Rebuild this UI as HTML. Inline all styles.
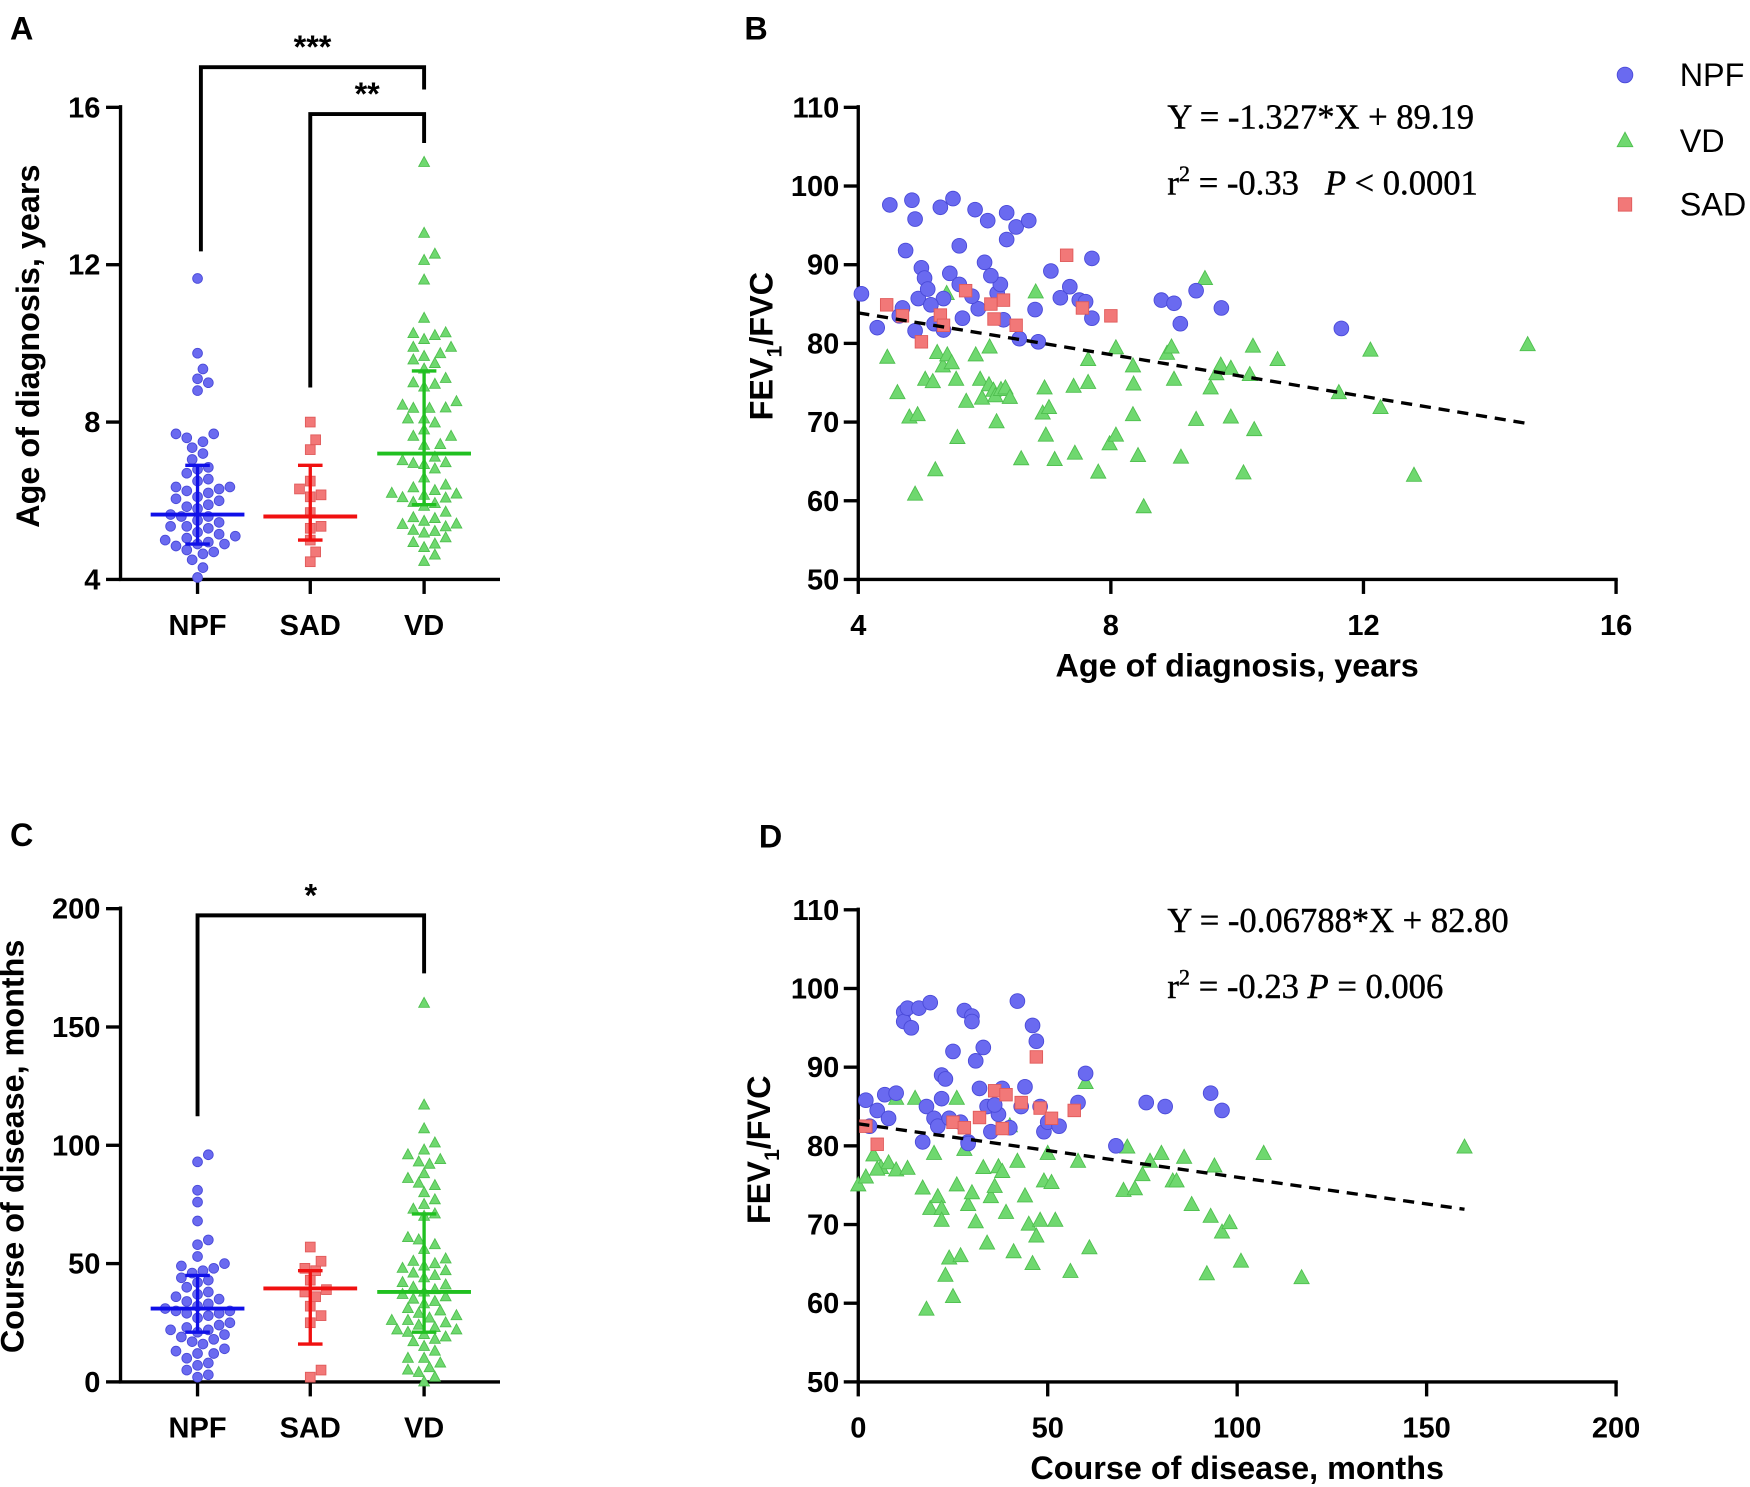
<!DOCTYPE html>
<html><head><meta charset="utf-8"><style>
html,body{margin:0;padding:0;background:#fff}
svg{display:block}
text{font-family:"Liberation Sans",Arial,sans-serif}
.tk{font-size:26px;font-weight:bold}
.ttl{font-size:29px;font-weight:bold}
.eq{font-family:"Liberation Serif",serif;font-size:31px;white-space:pre;stroke:#000;stroke-width:0.4}
</style></head><body>
<svg id="fig" width="1750" height="1487" viewBox="0 0 1568 1332" xmlns="http://www.w3.org/2000/svg">
<g id="g"></g>
</svg>
<script>
// ---- data ----
const groupNames = ["NPF","SAD","VD"];
const bNPF = [[4.05,86.3],[4.3,82],[4.5,97.6],[4.65,83.5],[4.75,91.8],[4.85,98.2],[4.9,95.8],[4.95,85.7],[5.0,89.6],[5.05,88.3],[5.1,86.9],[4.9,81.6],[5.2,82.5],[5.3,97.3],[5.35,85.7],[5.35,81.7],[5.45,88.9],[5.5,98.4],[5.6,87.5],[5.6,92.4],[5.65,83.2],[5.85,97],[5.9,84.4],[6.0,90.3],[6.05,95.6],[6.2,86.4],[6.25,87.5],[6.3,83],[6.35,96.6],[6.35,93.2],[6.5,94.8],[6.55,80.6],[6.7,95.6],[6.8,84.3],[6.85,80.2],[7.05,89.2],[7.2,85.8],[7.35,87.2],[7.5,85.5],[7.6,85.3],[7.7,90.8],[7.7,83.2],[8.8,85.5],[9.0,85.1],[9.1,82.5],[9.35,86.7],[9.75,84.5],[11.65,81.9],[4.7,84.5],[5.15,84.9],[6.1,88.6],[5.8,86]];
const bVD = [[4.46,78.2],[4.62,73.7],[4.81,70.6],[4.90,60.8],[4.94,70.9],[5.06,75.4],[5.18,75.1],[5.25,78.8],[5.22,63.9],[5.34,77.1],[5.40,86.3],[5.41,78.5],[5.48,77.5],[5.55,75.4],[5.57,68.0],[5.71,72.6],[5.86,78.5],[5.93,75.4],[5.96,73.0],[6.07,74.7],[6.08,79.5],[6.14,74.0],[6.17,73.3],[6.19,70.0],[6.26,74.1],[6.33,74.3],[6.40,73.1],[6.58,65.3],[6.81,86.5],[6.95,74.3],[6.92,71.1],[6.97,68.3],[7.02,71.8],[7.43,66.0],[7.64,75.0],[7.64,77.9],[7.80,63.6],[7.98,67.2],[8.35,77.1],[8.36,74.8],[8.35,70.9],[8.43,65.7],[8.52,59.2],[8.89,78.7],[8.96,79.5],[9.0,75.4],[9.11,65.5],[9.35,70.3],[9.49,88.2],[9.58,74.3],[9.67,76.1],[9.74,77.2],[9.90,70.6],[10.10,63.5],[10.20,76.0],[10.25,79.6],[10.27,69.0],[10.64,77.9],[11.61,73.7],[12.11,79.1],[12.27,71.8],[12.80,63.2],[14.60,79.8],[8.08,79.4],[7.41,74.5],[9.90,76.8],[8.08,68.3],[7.11,65.2]];
const bSAD = [[4.45,84.9],[5.0,80.2],[5.3,83.6],[5.35,82.3],[5.7,86.7],[6.1,85],[6.15,83.1],[6.5,82.3],[7.3,91.2],[7.55,84.5],[8.0,83.5],[4.7,83.5],[6.3,85.5]];
const dNPF = [[2,85.8],[3,82.5],[5,84.5],[7,86.5],[8,83.5],[10,86.7],[12,97],[12,95.8],[13,97.5],[14,95],[16,97.5],[17,80.5],[18,85],[19,98.2],[20,83.5],[21,82.5],[22,89],[23,88.5],[24,83.5],[25,92],[27,83],[28,97.2],[29,80.5],[30,96.5],[30,95.8],[31,90.8],[32,87.3],[33,92.5],[34,85],[35,81.8],[37,84],[38,87.3],[40,82.3],[42,98.4],[43,85],[44,87.5],[46,95.3],[47,93.3],[48,85],[49,81.8],[50,83],[53,82.5],[58,85.5],[60,89.2],[68,80],[76,85.5],[81,85],[93,86.7],[96,84.5],[29,80.3],[36,85.2],[22,86]];
const dVD = [[0,75],[2,76],[4,78.8],[6,77.2],[8,77.8],[10,76.9],[13,77.1],[15,86],[17,74.6],[18,59.2],[19,72],[20,79],[21,73.5],[22,72],[22,70.5],[23,63.5],[24,65.7],[25,60.8],[26,75],[27,66],[28,79.5],[29,72.5],[30,74],[31,70.3],[33,77.2],[34,67.6],[35,73.5],[36,74.8],[37,77.3],[38,76.7],[39,71.5],[40,82.5],[41,66.5],[42,78],[44,73.6],[45,70],[46,65],[47,68.5],[48,70.5],[49,75.5],[50,79],[51,75.3],[52,70.5],[56,64],[58,78],[61,67],[70,74.3],[71,79.8],[73,74.5],[75,76.3],[77,78],[80,79],[83,75.5],[84,75.5],[86,78.5],[88,72.5],[92,63.7],[93,71],[94,77.4],[96,69],[98,70.2],[101,65.3],[107,79],[117,63.2],[160,79.8],[60,88],[26,86],[10,86],[5,77]];
const dSAD = [[2,82.5],[5,80.2],[25,83],[28,82.3],[32,83.6],[36,87],[39,86.5],[43,85.5],[47,91.3],[48,84.8],[51,83.5],[57,84.5],[38,82.2]];
const aMedian = [5.65,5.6,7.2];
const aLow = [4.9,5.0,5.9];
const aHigh = [6.9,6.9,9.3];
const cMedian = [31,39.5,38];
const cLow = [21,16,21];
const cHigh = [45,47,71];
const regB = [-1.327,89.19,4,14.65];
const regD = [-0.06788,82.80,0,160];
const yTicksA = [4,8,12,16];
const yTicksC = [0,50,100,150,200];
const yTicksFev = [50,60,70,80,90,100,110];
const xTicksB = [4,8,12,16];
const xTicksD = [0,50,100,150,200];

const NS="http://www.w3.org/2000/svg";
const G=document.getElementById('g');
const COL={NPF:"#6a6af0",SAD:"#f27878",VD:"#6fd86f"};
const STR={NPF:"#4a4ad8",SAD:"#e05a5a",VD:"#4fbf4f"};
const LINE={NPF:"#1010e8",SAD:"#f01010",VD:"#20c020"};
function el(t,a,txt){const e=document.createElementNS(NS,t);for(const k in a)e.setAttribute(k,a[k]);if(txt!==undefined)e.textContent=txt;G.appendChild(e);return e;}
function line(x1,y1,x2,y2,w,c){return el('line',{x1,y1,x2,y2,stroke:c||'#000','stroke-width':w||3});}
function marker(g,x,y,s){
  let e;
  if(g==="NPF") e=el('circle',{cx:x,cy:y,r:s,fill:COL.NPF,stroke:STR.NPF,'stroke-width':0.8});
  else if(g==="SAD") e=el('rect',{x:x-s,y:y-s,width:2*s,height:2*s,fill:COL.SAD,stroke:STR.SAD,'stroke-width':0.8});
  else e=el('polygon',{points:`${x},${y-s*1.1} ${x-s},${y+s*0.75} ${x+s},${y+s*0.75}`,fill:COL.VD,stroke:STR.VD,'stroke-width':0.8});
  return e;
}
function text(x,y,s,cls,anchor,extra){const a={x,y,class:cls,'text-anchor':anchor||'middle'};Object.assign(a,extra||{});return el('text',a,s);}

function columnPanel(opt){
  const {x0,x1,yb,yt,vmin,vmax,ticks,cats,data,med,lo,hi,r,ytitle,title,tx,ty,pfx}=opt;
  const ys=v=>yb-(v-vmin)/(vmax-vmin)*(yb-yt);
  const ax=line(x0,yt-2,x0,yb,3);  
  const bx=line(x0-1.5,yb,x1,yb,3);  
  ticks.forEach(t=>{line(x0-13,ys(t),x0,ys(t),3);
    const l=text(x0-18,ys(t)+9,t,'tk','end');
     });
  cats.forEach((c,i)=>{
    const cx=opt.cx[i];
    line(cx,yb,cx,yb+13,3);
    const l=text(cx,yb+50,c,'tk');
     
    const vals=data[i].slice().sort((a,b)=>a-b);
    const placed=[];const d=2*r+0.5;
    vals.forEach(v=>{
      const y=ys(v);let px=cx;
      for(let k=0;k<40;k++){const off=(k%2?1:-1)*Math.ceil(k/2)*r*1.05;const tx2=cx+off;
        if(!placed.some(p=>Math.hypot(p[0]-tx2,p[1]-y)<d)){px=tx2;break;}}
      placed.push([px,y]);
      const m=marker(c,px,y,c==="VD"?r*1.05:r*0.95);
       
    });
    const e1=line(cx,ys(lo[i]),cx,ys(hi[i]),3,LINE[c]);
     
    line(cx-11,ys(lo[i]),cx+11,ys(lo[i]),3,LINE[c]);line(cx-11,ys(hi[i]),cx+11,ys(hi[i]),3,LINE[c]);
    const mm=line(cx-42,ys(med[i]),cx+42,ys(med[i]),3.5,LINE[c]);
     
  });
  const yt2=text(0,0,ytitle,'ttl','middle',{transform:`translate(${tx},${ty}) rotate(-90)`});
   
  const lt=text(opt.lx,opt.ly,title,'ttl','start',{'font-size':32});
   
  return ys;
}
function bracket(xa,xb,ytop,ya,yb2,star,sy,pfx){
  const p=el('polyline',{points:`${xa},${ya} ${xa},${ytop} ${xb},${ytop} ${xb},${yb2}`,fill:'none',stroke:'#000','stroke-width':3.5});
   
  const s=text((xa+xb)/2,sy,star,'ttl','middle',{'font-size':32});
   
}
const catX=[177,278,380];
columnPanel({x0:108,x1:448,yb:519,yt:96,vmin:4,vmax:16,ticks:yTicksA,cats:groupNames,cx:catX,
  data:[bNPF.map(p=>p[0]),bSAD.map(p=>p[0]),bVD.map(p=>p[0])],med:aMedian,lo:aLow,hi:aHigh,r:4.6,
  ytitle:"Age of diagnosis, years",title:"A",tx:35,ty:310,lx:9,ly:35,pfx:'a'});
bracket(180,380,60,225,80,"***",52,'a-npf-vd');
bracket(278,380,102,347,128,"**",94,'a-sad-vd');
columnPanel({x0:108,x1:448,yb:1238,yt:814,vmin:0,vmax:200,ticks:yTicksC,cats:groupNames,cx:catX,
  data:[dNPF.map(p=>p[0]),dSAD.map(p=>p[0]),dVD.map(p=>p[0])],med:cMedian,lo:cLow,hi:cHigh,r:4.6,
  ytitle:"Course of disease, months",title:"C",tx:21,ty:1027,lx:9,ly:758,pfx:'c'});
bracket(177,380,820,1000,872,"*",812,'c-npf-vd');

function scatterPanel(o){
  const {x0,x1,yb,yt,xmin,xmax,xt,pfx}=o;
  const xs=v=>x0+(v-xmin)/(xmax-xmin)*(x1-x0);
  const ys=v=>yb-(v-50)/60*(yb-yt);
  const ax=line(x0,yt-2,x0,yb,3);  
  const bx=line(x0-1.5,yb,x1+1.5,yb,3);  
  yTicksFev.forEach(t=>{line(x0-13,ys(t),x0,ys(t),3);
    const l=text(x0-17,ys(t)+9,t,'tk','end');  });
  xt.forEach(t=>{line(xs(t),yb,xs(t),yb+13,3);
    const l=text(xs(t),yb+50,t,'tk');  });
  [["VD",o.vd,6.8],["NPF",o.npf,6.6],["SAD",o.sad,5.6]].forEach(([g,arr,s])=>{
    arr.forEach(p=>{const m=marker(g,xs(p[0]),ys(p[1]),s);
       });});
  const [k,b,r0,r1]=o.reg;
  const rl=line(xs(r0),ys(k*r0+b),xs(r1),ys(k*r1+b),3);
  rl.setAttribute('stroke-dasharray','10,7');
   
  const yt2=el('text',{class:'ttl','text-anchor':'middle',transform:`translate(${o.tx},${o.ty}) rotate(-90)`});
  yt2.innerHTML='FEV<tspan font-size="19" dy="8">1</tspan><tspan dy="-8">/FVC</tspan>';
   
  const xt2=text((x0+x1)/2,o.xty,o.xtitle,'ttl');
   
  const e1=text(o.ex,o.ey,o.eq1,'eq','start');  
  const e2=el('text',{x:o.ex,y:o.ey+59,class:'eq'});
  e2.innerHTML=o.eq2;
   
  const lt=text(o.lx,o.ly,o.title,'ttl','start',{'font-size':32});
   
}
scatterPanel({x0:769,x1:1448,yb:519,yt:96,xmin:4,xmax:16,xt:xTicksB,pfx:'b',npf:bNPF,vd:bVD,sad:bSAD,reg:regB,
  tx:692,ty:310,xtitle:"Age of diagnosis, years",xty:606,ex:1046,ey:115,
  eq1:"Y = -1.327*X + 89.19",eq2:'r<tspan font-size="20" dy="-12">2</tspan><tspan dy="12"> = -0.33   </tspan><tspan font-style="italic">P</tspan> &lt; 0.0001',
  title:"B",lx:667,ly:35});
scatterPanel({x0:769,x1:1448,yb:1238,yt:815,xmin:0,xmax:200,xt:xTicksD,pfx:'d',npf:dNPF,vd:dVD,sad:dSAD,reg:regD,
  tx:690,ty:1030,xtitle:"Course of disease, months",xty:1325,ex:1046,ey:835,
  eq1:"Y = -0.06788*X + 82.80",eq2:'r<tspan font-size="20" dy="-12">2</tspan><tspan dy="12"> = -0.23 </tspan><tspan font-style="italic">P</tspan> = 0.006',
  title:"D",lx:680,ly:759});

[["NPF",67],["VD",126],["SAD",183]].forEach(([g,y])=>{
  const m=marker(g,1456,y,g==="SAD"?6:7);
   
  const t=text(1505,y+10,g,'','start',{'font-size':29});
   
});
</script>
</body></html>
